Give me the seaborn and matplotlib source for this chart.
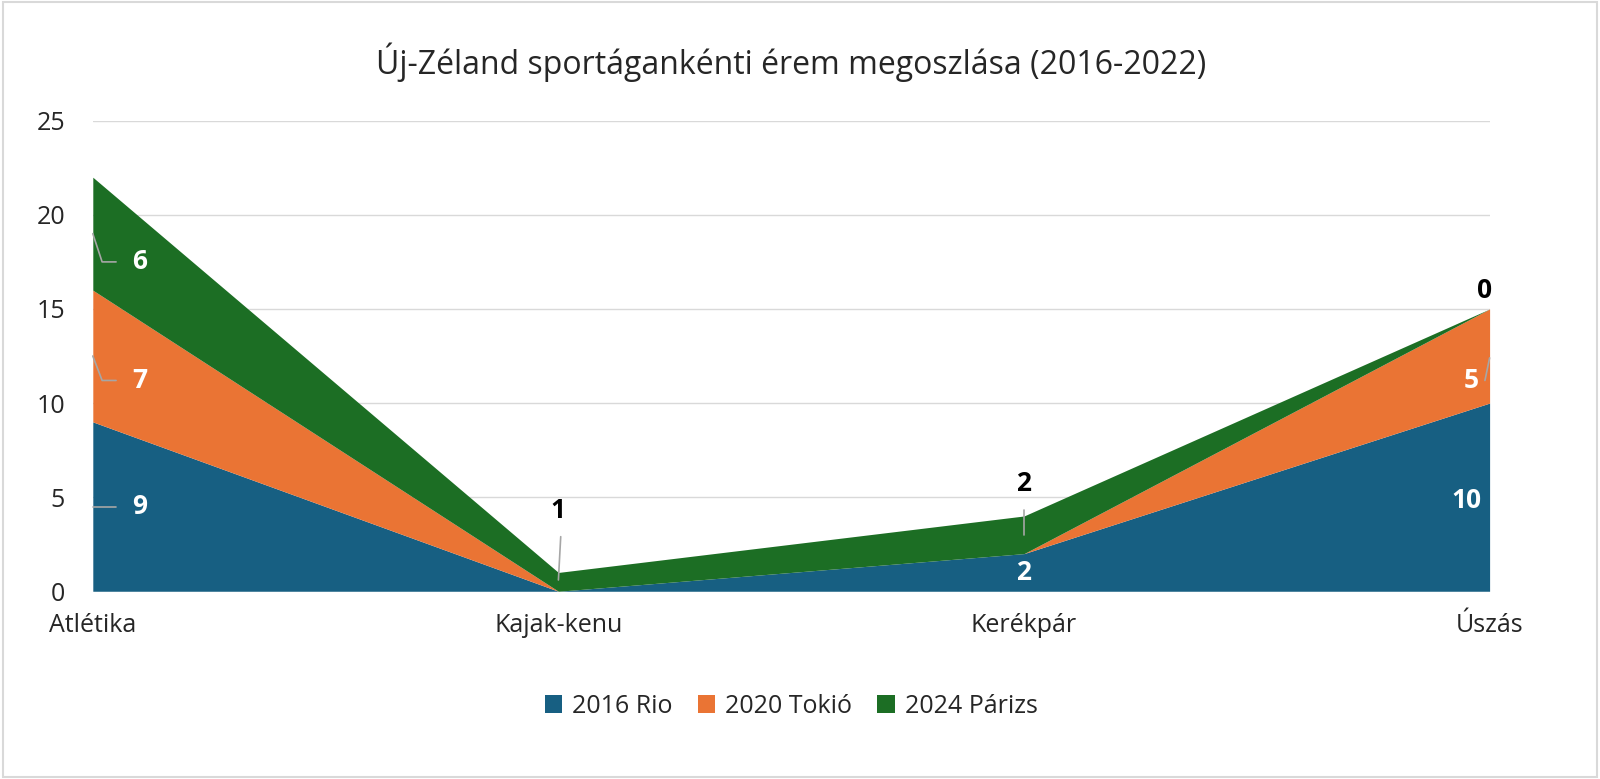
import matplotlib
matplotlib.use("Agg")
import matplotlib.pyplot as plt
import seaborn as sns
import numpy as np

categories = ["Atlétika", "Kajak-kenu", "Kerékpár", "Úszás"]
series_names = ["2016 Rio", "2020 Tokió", "2024 Párizs"]
rio = [9, 0, 2, 10]
tokio = [7, 0, 0, 5]
parizs = [6, 1, 2, 0]
colors = ["#175f82", "#ea7434", "#1c6e24"]
yticks = [0, 5, 10, 15, 20, 25]

sns.set_theme(style="white")
plt.rcParams['font.family'] = ['Open Sans', 'DejaVu Sans']

fig = plt.figure(figsize=(16, 7.79), dpi=100)
ax = fig.add_axes([0.058, 0.241, 0.873, 0.604])
x = np.arange(len(categories))
ax.stackplot(x, rio, tokio, parizs, colors=colors, labels=series_names, zorder=2, linewidth=0)
ax.set_xlim(0, 3)
ax.set_ylim(0, 25)
ax.set_yticks(yticks)
ax.yaxis.grid(True, color="#d9d9d9", lw=1, zorder=0)
for s in ax.spines.values():
    s.set_visible(False)
ax.set_xticks(x)
ax.set_xticklabels(categories, fontsize=18)
ax.tick_params(axis='y', labelsize=18, pad=20, length=0)
ax.tick_params(axis='x', pad=16, length=0)
ax.set_title("Új-Zéland sportágankénti érem megoszlása (2016-2022)", fontsize=23, pad=34)

lc = "#a6a6a6"
def lab(tx, ty, t, col, pts=None):
    if pts:
        ax.plot([p[0] for p in pts], [p[1] for p in pts], color=lc, lw=1.2, zorder=3, clip_on=False)
    ax.text(tx, ty, t, color=col, fontsize=19, fontweight='bold', ha='center', va='center', zorder=4)

lab(0.1, 17.5, str(parizs[0]), "white", [(0, 19), (0.02, 17.5), (0.05, 17.5)])
lab(0.1, 11.2, str(tokio[0]), "white", [(0, 12.5), (0.02, 11.2), (0.05, 11.2)])
lab(0.1, 4.5, str(rio[0]), "white", [(0, 4.5), (0.05, 4.5)])
lab(1.0, 4.3, str(parizs[1]), "black", [(1.0, 0.6), (1.005, 2.9)])
lab(2.0, 5.7, str(parizs[2]), "black", [(2.0, 3.0), (2.0, 4.3)])
lab(2.0, 1.0, str(rio[2]), "white")
lab(2.99, 16.0, str(parizs[3]), "black")
lab(2.96, 11.2, str(tokio[3]), "white", [(3.0, 12.4), (2.99, 11.2)])
lab(2.95, 4.8, str(rio[3]), "white")

ax.legend(loc='upper center', bbox_to_anchor=(0.5, -0.17), ncol=3, frameon=False,
          fontsize=18, handlelength=0.7, handleheight=0.7, columnspacing=1.0, handletextpad=0.4)
fig.patches.append(plt.Rectangle((0.002, 0.003), 0.996, 0.994, transform=fig.transFigure,
                                 fill=False, edgecolor="#d9d9d9", lw=1.5))
fig.savefig("out.png", dpi=100)
